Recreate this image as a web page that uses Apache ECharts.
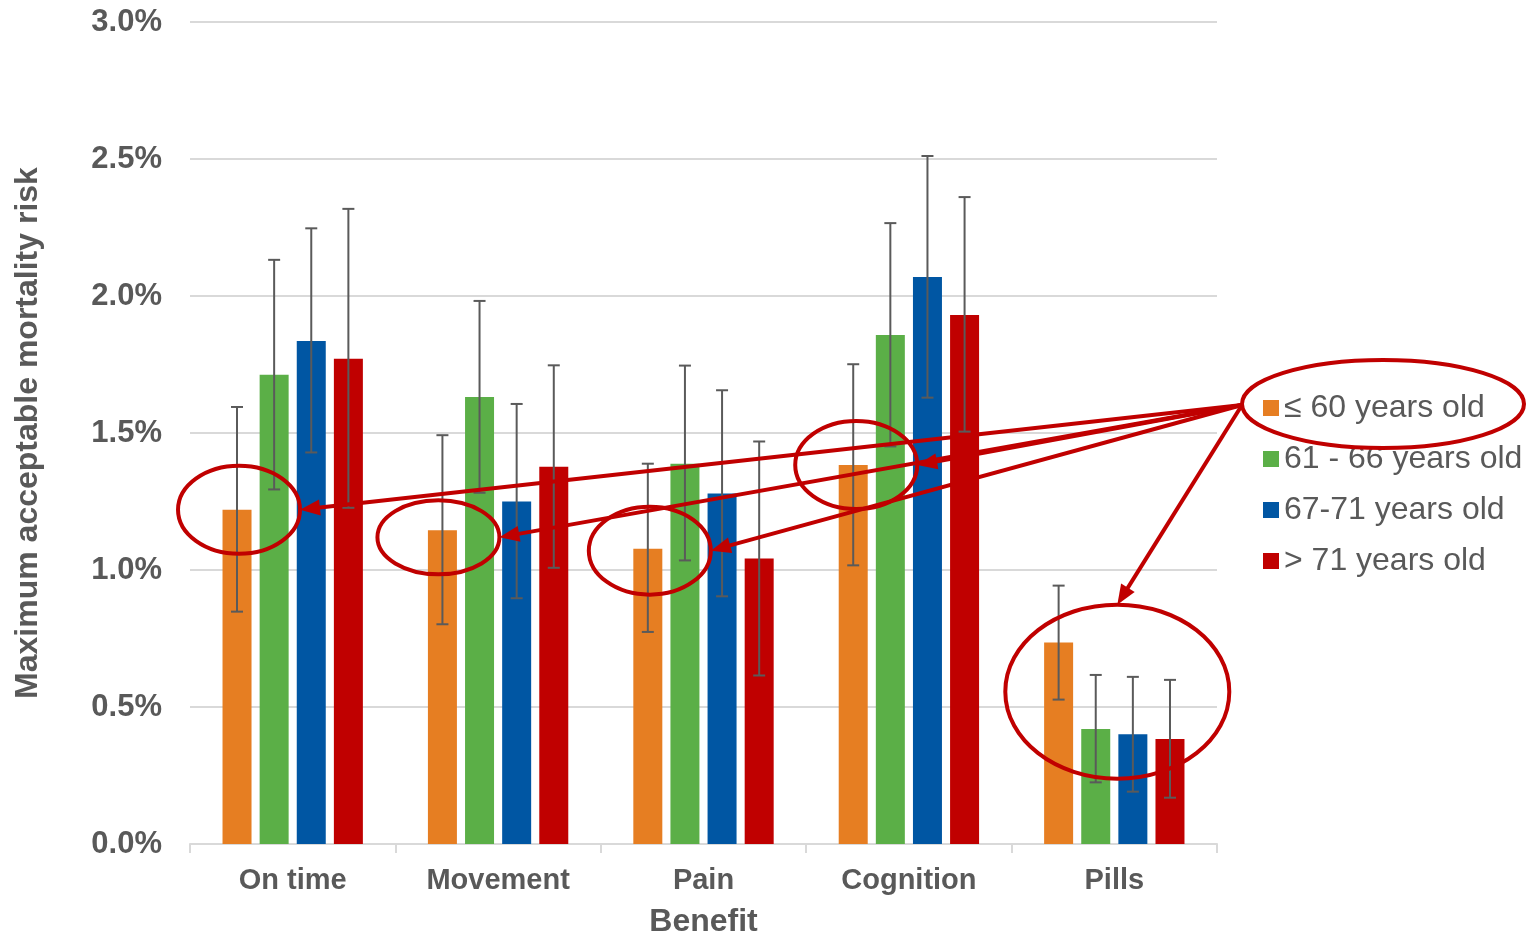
<!DOCTYPE html>
<html>
<head>
<meta charset="utf-8">
<script src="https://cdn.jsdelivr.net/npm/echarts@6/dist/echarts.min.js"></script>
<style>
html,body{margin:0;padding:0;background:#fff;}
#main{width:1531px;height:936px;}
</style>
</head>
<body>
<div id="main"></div>
<script>
// ---- data ----
const categories = ['On time', 'Movement', 'Pain', 'Cognition', 'Pills'];
const seriesNames = ['≤ 60 years old', '61 - 66 years old', '67-71 years old', '> 71 years old'];
const age60    = [1.220, 1.145, 1.078, 1.383, 0.735];
const age61_66 = [1.713, 1.631, 1.388, 1.858, 0.420];
const age67_71 = [1.836, 1.250, 1.279, 2.069, 0.401];
const age71p   = [1.771, 1.377, 1.042, 1.931, 0.383];
const low60    = [0.848, 0.802, 0.774, 1.017, 0.527];
const high60   = [1.595, 1.492, 1.388, 1.751, 0.943];
const low61_66 = [1.294, 1.282, 1.035, 1.451, 0.225];
const high61_66= [2.132, 1.982, 1.746, 2.266, 0.617];
const low67_71 = [1.429, 0.897, 0.904, 1.629, 0.191];
const high67_71= [2.247, 1.606, 1.656, 2.511, 0.610];
const low71p   = [1.227, 1.008, 0.615, 1.505, 0.169];
const high71p  = [2.318, 1.747, 1.469, 2.361, 0.599];
const yMin = 0, yMax = 3.0, yStep = 0.5;
const circledCategories = [0, 1, 2, 3]; // orange bar circled in these groups
const groupCategory = 4;                 // whole group circled

// ---- styling ----
const colors = ['#E67E22', '#5BAF47', '#0056A3', '#C00000'];
const textColor = '#595959';
const font = 'Liberation Sans, Arial, sans-serif';
const BAR_W = 29, BAR_GAP = 0.28;
const values = [age60, age61_66, age67_71, age71p];
const lows = [low60, low61_66, low67_71, low71p];
const highs = [high60, high61_66, high67_71, high71p];
const offsetOf = s => (s - 1.5) * BAR_W * (1 + BAR_GAP);

const chart = echarts.init(document.getElementById('main'), null, {renderer: 'canvas'});

const series = [];
values.forEach((v, s) => {
  series.push({
    name: seriesNames[s], type: 'bar', data: v,
    barWidth: BAR_W, barGap: (BAR_GAP * 100) + '%',
    itemStyle: {color: colors[s]}, z: 2
  });
});
values.forEach((v, s) => {
  series.push({
    name: 'err' + s, type: 'custom', z: 4,
    data: categories.map((c, i) => [i, lows[s][i], highs[s][i]]),
    renderItem: function (params, api) {
      const cat = api.value(0);
      const lo = api.coord([cat, api.value(1)]);
      const hi = api.coord([cat, api.value(2)]);
      const x = lo[0] + offsetOf(s);
      const cap = 6;
      const st = {stroke: '#5A5A5A', lineWidth: 2};
      return {type: 'group', children: [
        {type: 'line', shape: {x1: x, y1: lo[1], x2: x, y2: hi[1]}, style: st},
        {type: 'line', shape: {x1: x - cap, y1: lo[1], x2: x + cap, y2: lo[1]}, style: st},
        {type: 'line', shape: {x1: x - cap, y1: hi[1], x2: x + cap, y2: hi[1]}, style: st}
      ]};
    }
  });
});

const option = {
  animation: false,
  backgroundColor: '#fff',
  textStyle: {fontFamily: font},
  grid: {left: 190, right: 314, top: 22, bottom: 92, containLabel: false, outerBoundsMode: 'none'},
  legend: {
    data: seriesNames, orient: 'vertical', left: 1258, top: 387,
    itemWidth: 16, itemHeight: 16, itemGap: 19, itemTextGap: 6, icon: 'rect',
    textStyle: {fontSize: 32, color: textColor, fontFamily: font, lineHeight: 32}
  },
  xAxis: {
    type: 'category', data: categories,
    name: 'Benefit', nameLocation: 'middle', nameGap: 62,
    nameTextStyle: {fontSize: 32, fontWeight: 'bold', color: textColor, fontFamily: font},
    axisLine: {lineStyle: {color: '#D9D9D9', width: 2}},
    axisTick: {show: true, length: 9, lineStyle: {color: '#D9D9D9', width: 2}},
    axisLabel: {fontSize: 29, fontWeight: 'bold', color: textColor, margin: 22, fontFamily: font}
  },
  yAxis: {
    type: 'value', min: yMin, max: yMax, interval: yStep,
    name: 'Maximum acceptable mortality risk', nameLocation: 'middle', nameGap: 146,
    nameTextStyle: {fontSize: 32, fontWeight: 'bold', color: textColor, fontFamily: font},
    axisLine: {show: false}, axisTick: {show: false},
    splitLine: {lineStyle: {color: '#D9D9D9', width: 2}},
    axisLabel: {fontSize: 31, fontWeight: 'bold', color: textColor, margin: 28, fontFamily: font,
      formatter: v => v.toFixed(1) + '%'}
  },
  series: series
};
chart.setOption(option);

// ---- annotations (anchored to data through the axes) ----
const RED = '#C00000';
const gfx = [];
function arrow(x1, y1, x2, y2) {
  const L = 20, W = 8;
  const dx = x2 - x1, dy = y2 - y1, len = Math.hypot(dx, dy);
  const ux = dx / len, uy = dy / len;
  const bx = x2 - ux * L, by = y2 - uy * L;
  gfx.push({type: 'line', z: 100, shape: {x1: x1, y1: y1, x2: bx + ux * 2, y2: by + uy * 2},
    style: {stroke: RED, lineWidth: 4}});
  gfx.push({type: 'polygon', z: 100, shape: {points: [[x2, y2], [bx - uy * W, by + ux * W], [bx + uy * W, by - ux * W]]},
    style: {fill: RED}});
}
function ellipse(cx, cy, rx, ry) {
  gfx.push({type: 'ellipse', z: 100, shape: {cx: cx, cy: cy, rx: rx, ry: ry},
    style: {fill: 'none', stroke: RED, lineWidth: 4}});
}
// legend ellipse around first legend entry
const legCx = 1383, legCy = 404;
ellipse(legCx, legCy, 141, 44);
const origin = [legCx - 141, legCy + 1];
const ryList = [44, 37, 44, 44];
const dxList = [2, -4, 2, 3];
const dyList = [0, 7, 2, 0];
circledCategories.forEach((ci, k) => {
  const p = chart.convertToPixel({gridIndex: 0}, [ci, age60[ci]]);
  const cx = p[0] + offsetOf(0) + dxList[k], cy = p[1] + dyList[k], rx = 61;
  ellipse(cx, cy, rx, ryList[k]);
  arrow(origin[0], origin[1], cx + rx, cy);
});
{
  const allHigh = highs.map(h => h[groupCategory]), allLow = lows.map(l => l[groupCategory]);
  const mid = (Math.max.apply(null, allHigh) + Math.min.apply(null, allLow)) / 2;
  const p = chart.convertToPixel({gridIndex: 0}, [groupCategory, mid]);
  const rx = 112, ry = 87;
  ellipse(p[0] + 3, p[1], rx, ry);
  arrow(origin[0], origin[1], p[0] + 3, p[1] - ry);
}
chart.setOption({graphic: {elements: gfx}});
</script>
</body>
</html>
